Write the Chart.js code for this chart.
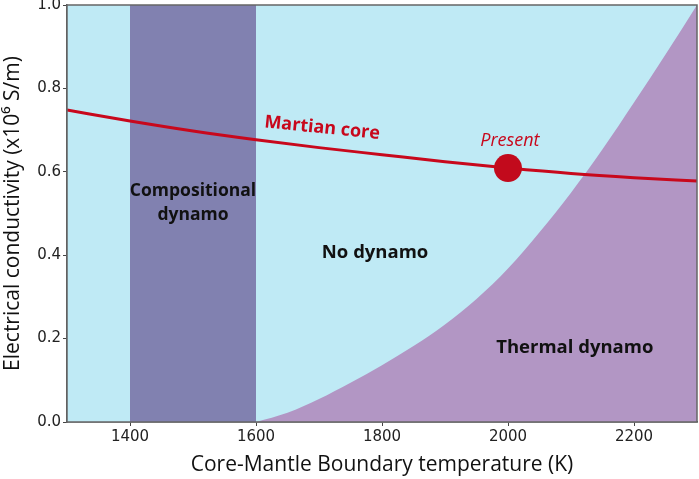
<!DOCTYPE html>
<html>
<head>
<meta charset="utf-8">
<script src="https://cdn.jsdelivr.net/npm/chart.js"></script>
<style>
  html, body { margin: 0; padding: 0; background: #fff; }
  #wrap { width: 699px; height: 479px; }
</style>
</head>
<body>
<div id="wrap"><canvas id="dynamoChart"></canvas></div>
<script>
// ticks
const xTicks = [1400, 1600, 1800, 2000, 2200];
const yTicks = [0.0, 0.2, 0.4, 0.6, 0.8, 1.0];

// Martian core conductivity vs CMB temperature
const coreTemp = [1300, 1400, 1500, 1600, 1700, 1800, 1900, 2000, 2100, 2200, 2300];
const coreSigma = [0.748, 0.722, 0.698, 0.677, 0.658, 0.641, 0.624, 0.609, 0.596, 0.586, 0.578];

// thermal dynamo boundary
const thermTemp = [1600, 1650, 1700, 1750, 1800, 1850, 1900, 1950, 2000, 2050, 2100, 2150, 2200, 2250, 2300];
const thermSigma = [0.0, 0.022, 0.055, 0.094, 0.136, 0.182, 0.234, 0.295, 0.368, 0.455, 0.55, 0.654, 0.766, 0.881, 1.0];

// compositional dynamo band
const compTemp = [1400, 1600];

// present day
const presentTemp = [2000];
const presentSigma = [0.609];

// region labels (data coords)
const labelText = ['Martian core', 'Present', 'Compositional', 'dynamo', 'No dynamo', 'Thermal dynamo'];
const labelTemp = [1705, 2003, 1500, 1500, 1789, 2106];
const labelSigma = [0.705, 0.674, 0.554, 0.496, 0.405, 0.177];

const RED = '#c8081c';
const labelStyle = [
  {font: 'bold 18px "Open Sans"', color: RED, rot: 5.8},
  {font: 'italic 18px "Open Sans"', color: RED, rot: 0},
  {font: 'bold 17.5px "Open Sans"', color: '#111', rot: 0},
  {font: 'bold 17.5px "Open Sans"', color: '#111', rot: 0},
  {font: 'bold 18.5px "Open Sans"', color: '#111', rot: 0},
  {font: 'bold 18.5px "Open Sans"', color: '#111', rot: 0}
];

const zip = (xs, ys) => xs.map((x, i) => ({x: x, y: ys[i]}));

const labelPlugin = {
  id: 'regionLabels',
  afterDatasetsDraw(chart) {
    const ctx = chart.ctx;
    const xs = chart.scales.x, ys = chart.scales.y;
    labelText.forEach((t, i) => {
      const s = labelStyle[i];
      ctx.save();
      ctx.translate(xs.getPixelForValue(labelTemp[i]), ys.getPixelForValue(labelSigma[i]));
      ctx.rotate(s.rot * Math.PI / 180);
      ctx.font = s.font;
      ctx.fillStyle = s.color;
      ctx.textAlign = 'center';
      ctx.textBaseline = 'middle';
      ctx.fillText(t, 0, 0);
      ctx.restore();
    });
    const a = chart.chartArea;
    ctx.save();
    ctx.strokeStyle = '#666';
    ctx.lineWidth = 1.5;
    ctx.strokeRect(a.left, a.top, a.right - a.left, a.bottom - a.top);
    ctx.restore();
  }
};

const data = {
  datasets: [{
    label: 'Present',
    data: zip(presentTemp, presentSigma),
    showLine: false,
    pointRadius: 14,
    pointBackgroundColor: '#c20a1c',
    pointBorderWidth: 0,
    order: 1
  }, {
    label: 'Martian core',
    data: zip(coreTemp, coreSigma),
    borderColor: RED,
    borderWidth: 3,
    pointRadius: 0,
    cubicInterpolationMode: 'monotone',
    fill: false,
    order: 2
  }, {
    label: 'Thermal dynamo',
    data: zip(thermTemp, thermSigma),
    borderWidth: 0,
    borderColor: 'rgba(0,0,0,0)',
    backgroundColor: '#b296c4',
    pointRadius: 0,
    cubicInterpolationMode: 'monotone',
    fill: 'origin',
    order: 3
  }, {
    label: 'Compositional dynamo',
    data: zip(compTemp, [1, 1]),
    borderWidth: 0,
    borderColor: 'rgba(0,0,0,0)',
    backgroundColor: '#8181b0',
    pointRadius: 0,
    fill: 'origin',
    order: 4
  }, {
    label: 'No dynamo',
    data: zip([1300, 2300], [1, 1]),
    borderWidth: 0,
    borderColor: 'rgba(0,0,0,0)',
    backgroundColor: '#bfeaf5',
    pointRadius: 0,
    fill: 'origin',
    order: 5
  }]
};

const config = {
  type: 'line',
  data,
  options: {
    responsive: true,
    maintainAspectRatio: false,
    animation: false,
    layout: {autoPadding: false, padding: {top: 5, right: 2, left: 0, bottom: 0}},
    plugins: {legend: {display: false}, tooltip: {enabled: false}},
    scales: {
      x: {
        type: 'linear',
        min: 1300,
        max: 2300,
        afterBuildTicks: (s) => { s.ticks = xTicks.map(v => ({value: v})); },
        afterFit: (s) => { s.height = 57; s.paddingLeft = 0; s.paddingRight = 0; },
        grid: {drawOnChartArea: false, drawTicks: true, tickLength: 4, color: '#444'},
        border: {display: true, color: '#555', width: 1.5},
        ticks: {color: '#222', font: {family: '"DejaVu Sans"', size: 15}, padding: 2, maxRotation: 0, callback: v => String(v)},
        title: {
          display: true,
          text: 'Core-Mantle Boundary temperature (K)',
          color: '#111',
          font: {family: 'Open Sans', size: 21},
          padding: {top: 0, bottom: 1}
        }
      },
      y: {
        min: 0,
        max: 1,
        afterBuildTicks: (s) => { s.ticks = yTicks.map(v => ({value: v})); },
        afterFit: (s) => { s.width = 67; s.paddingTop = 0; s.paddingBottom = 0; },
        grid: {drawOnChartArea: false, drawTicks: true, tickLength: 4, color: '#444'},
        border: {display: true, color: '#555', width: 1.5},
        ticks: {color: '#222', font: {family: '"DejaVu Sans"', size: 15}, padding: 2, callback: v => v.toFixed(1)},
        title: {
          display: true,
          text: 'Electrical conductivity (x10\u2076 S/m)',
          color: '#111',
          font: {family: 'Open Sans', size: 21},
          padding: {top: 0, bottom: 0}
        }
      }
    }
  },
  plugins: [labelPlugin]
};

new Chart(document.getElementById('dynamoChart'), config);
</script>
</body>
</html>
